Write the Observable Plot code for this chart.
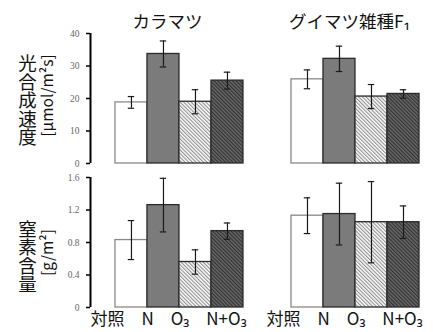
<!DOCTYPE html>
<html>
<head>
<meta charset="utf-8">
<script src="https://cdn.jsdelivr.net/npm/d3@7"></script>
<script src="https://cdn.jsdelivr.net/npm/@observablehq/plot@0.6"></script>
<style>
  html, body { margin: 0; padding: 0; background: #fff; }
  #chart { position: relative; width: 433px; height: 332px; overflow: hidden; background: #fff; font-family: "Noto Sans CJK JP", "Noto Sans", sans-serif; }
</style>
</head>
<body>
<svg width="0" height="0" style="position:absolute">
  <defs>
    <pattern id="hO3" patternUnits="userSpaceOnUse" width="2.6" height="2.6" patternTransform="rotate(-45)">
      <rect width="2.6" height="2.6" fill="#ffffff"></rect>
      <rect width="1.1" height="2.6" fill="#8c8c8c"></rect>
    </pattern>
    <pattern id="hNO3" patternUnits="userSpaceOnUse" width="2.6" height="2.6" patternTransform="rotate(-45)">
      <rect width="2.6" height="2.6" fill="#686868"></rect>
      <rect width="1.1" height="2.6" fill="#303030"></rect>
    </pattern>
  </defs>
</svg>
<div id="chart"></div>
<script>
// ---- data ----
const species = ["カラマツ", "グイマツ雑種F₁"];
const treatments = ["対照", "N", "O₃", "N+O₃"];
const axisLabelTop = ["光合成速度", "[μmol/m²s]"];
const axisLabelBottom = ["窒素含量", "[g/m²]"];
const ticksTop = [0, 10, 20, 30, 40];
const ticksBottom = [0, 0.4, 0.8, 1.2, 1.6];

const photoLarch = [18.8, 33.7, 19.0, 25.5];
const photoLarchErr = [1.8, 4.0, 3.7, 2.6];
const photoHybrid = [25.9, 32.2, 20.6, 21.4];
const photoHybridErr = [2.9, 3.9, 3.7, 1.3];

const nLarch = [0.83, 1.26, 0.56, 0.94];
const nLarchErr = [0.24, 0.33, 0.15, 0.10];
const nHybrid = [1.13, 1.15, 1.05, 1.05];
const nHybridErr = [0.22, 0.38, 0.50, 0.20];

// ---- styling ----
const fills = ["#ffffff", "#7b7b7b", "url(#hO3)", "url(#hNO3)"];
const strokes = ["#8a8a8a", "#2a2a2a", "#2a2a2a", "#2a2a2a"];
const groupStride = 5.5;   // bar-widths between group starts
const xDomain = [-0.78, 9.5];
const jpFont = "'Noto Sans CJK JP', 'Noto Sans', sans-serif";

function rows(means, errs) {
  const out = [];
  means.forEach((m, g) => m.forEach((v, i) => {
    const x1 = g * groupStride + i;
    out.push({g, i, v, e: errs[g][i], x1, x2: x1 + 1, xc: x1 + 0.5,
              fill: fills[i], stroke: strokes[i]});
  }));
  return out;
}

function panel({data, yDomain, ticks, labels, height, marginTop, marginBottom, labelDy, showX, showTitle}) {
  const marks = [
    Plot.rectY(data, {x1: "x1", x2: "x2", y: "v", fill: "fill", stroke: "stroke", strokeWidth: 1.3}),
    Plot.ruleX(data, {x: "xc", y1: d => d.v - d.e, y2: d => d.v + d.e, stroke: "#1a1a1a", strokeWidth: 1.2}),
    Plot.ruleY(data, {x1: d => d.xc - 0.1, x2: d => d.xc + 0.1, y: d => d.v + d.e, stroke: "#1a1a1a", strokeWidth: 1.2}),
    Plot.ruleY(data, {x1: d => d.xc - 0.1, x2: d => d.xc + 0.1, y: d => d.v - d.e, stroke: "#1a1a1a", strokeWidth: 1.2}),
    Plot.ruleX([xDomain[0]], {stroke: "#000", strokeWidth: 2}),
    Plot.axisY({ticks, tickSize: 4, tickPadding: 7, stroke: "#000", strokeWidth: 1.5,
                fontFamily: "'Liberation Serif', serif", fontSize: 9.5, fill: "#666", label: null,
                tickFormat: d => String(d)}),
    Plot.text([labels[0]], {frameAnchor: "left", textAnchor: "middle", lineAnchor: "middle", dx: -63, dy: labelDy[0],
                fontSize: 18.5, fill: "#111", fontFamily: jpFont}),
    Plot.text([labels[1]], {frameAnchor: "left", textAnchor: "middle", lineAnchor: "middle", dx: -42, dy: labelDy[1], rotate: -90,
                fontSize: 15.5, fill: "#111", fontFamily: jpFont})
  ];
  if (showTitle) {
    marks.push(Plot.text([species[0]], {x: 0 * groupStride + 2, frameAnchor: "top", lineAnchor: "middle", dy: -11, dx: -12,
                fontSize: 17.5, fill: "#111", fontFamily: jpFont}));
    marks.push(Plot.text([species[1]], {x: 1 * groupStride + 2, frameAnchor: "top", lineAnchor: "middle", dy: -11, dx: -6,
                fontSize: 17.5, fill: "#111", fontFamily: jpFont}));
  }
  if (showX) {
    marks.push(Plot.text(species.map((s, g) => g), {x: g => g * groupStride, frameAnchor: "bottom", lineAnchor: "middle",
                text: () => treatments.join("\u3000"), textAnchor: "start", dx: -25, dy: 12,
                fontSize: 17, fill: "#111", fontFamily: jpFont}));
  }
  const svg = Plot.plot({
    width: 433,
    height,
    marginLeft: 90,
    marginRight: 14,
    marginTop,
    marginBottom,
    x: {domain: xDomain, axis: null},
    y: {domain: yDomain, axis: null},
    color: {type: "identity"},
    style: {background: "transparent", fontFamily: jpFont, overflow: "visible"},
    marks
  });
  // set the first label in vertical (tategaki) writing mode
  svg.querySelectorAll("text").forEach(t => {
    if (t.textContent === labels[0]) {
      t.style.writingMode = "vertical-rl";
      t.style.textOrientation = "upright";
      t.setAttribute("dy", "0");
    }
  });
  return svg;
}

const topPanel = panel({
  data: rows([photoLarch, photoHybrid], [photoLarchErr, photoHybridErr]),
  yDomain: [0, 40], ticks: ticksTop, labels: axisLabelTop,
  height: 170, marginTop: 33, marginBottom: 7, labelDy: [-4, -3], showX: false, showTitle: true
});
const bottomPanel = panel({
  data: rows([nLarch, nHybrid], [nLarchErr, nHybridErr]),
  yDomain: [0, 1.6], ticks: ticksBottom, labels: axisLabelBottom,
  height: 162, marginTop: 7, marginBottom: 25, labelDy: [8, 10], showX: true, showTitle: false
});
topPanel.style.position = "absolute";
topPanel.style.left = "0px";
topPanel.style.top = "0px";
bottomPanel.style.position = "absolute";
bottomPanel.style.left = "0px";
bottomPanel.style.top = "170px";
const chart = document.getElementById("chart");
chart.appendChild(topPanel);
chart.appendChild(bottomPanel);
</script>
</body>
</html>
